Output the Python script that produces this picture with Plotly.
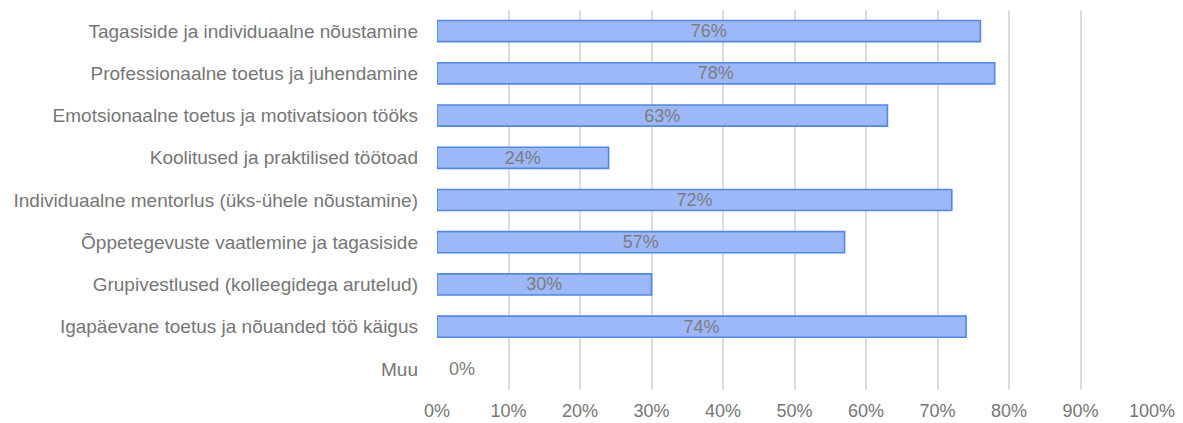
import plotly.graph_objects as go

categories = [
    "Tagasiside ja individuaalne nõustamine",
    "Professionaalne toetus ja juhendamine",
    "Emotsionaalne toetus ja motivatsioon tööks",
    "Koolitused ja praktilised töötoad",
    "Individuaalne mentorlus (üks-ühele nõustamine)",
    "Õppetegevuste vaatlemine ja tagasiside",
    "Grupivestlused (kolleegidega arutelud)",
    "Igapäevane toetus ja nõuanded töö käigus",
    "Muu",
]
shares = [0.76, 0.78, 0.63, 0.24, 0.72, 0.57, 0.30, 0.74, 0.00]
tick_values = [i / 10 for i in range(11)]
tick_labels = [f"{i * 10}%" for i in range(11)]

label_text = [f"{round(v * 100)}%" for v in shares]
inside_text = [t if v > 0 else "" for t, v in zip(label_text, shares)]
edge_width = [1.6 if v > 0 else 0 for v in shares]

GREY = "#767676"
FONT = "Liberation Sans, Arial, sans-serif"

fig = go.Figure(
    go.Bar(
        x=shares,
        y=categories,
        orientation="h",
        marker=dict(color="#9db8f8", line=dict(color="#4f87ea", width=edge_width)),
        text=inside_text,
        textposition="inside",
        insidetextanchor="middle",
        textangle=0,
        constraintext="none",
        textfont=dict(family=FONT, size=18, color="#7c7c7c"),
        cliponaxis=False,
        width=0.5,
    )
)

# Zero-valued bars get their label just right of the axis
for cat, v, t in zip(categories, shares, label_text):
    if v == 0:
        fig.add_annotation(
            x=v, y=cat, text=t, showarrow=False, xanchor="left", xshift=10,
            font=dict(family=FONT, size=18, color="#7c7c7c"),
        )

fig.update_layout(
    width=1183,
    height=423,
    margin=dict(l=437, r=31, t=10, b=33),
    paper_bgcolor="white",
    plot_bgcolor="white",
    showlegend=False,
    font=dict(family=FONT, size=18, color=GREY),
    xaxis=dict(
        range=[0, 1],
        tickvals=tick_values,
        ticktext=tick_labels,
        showgrid=True,
        gridcolor="#dcdcdc",
        gridwidth=1.5,
        zeroline=False,
        showline=False,
        ticks="",
        ticklabelstandoff=8,
        automargin=False,
        tickfont=dict(family=FONT, size=18, color=GREY),
    ),
    yaxis=dict(
        autorange="reversed",
        showgrid=False,
        zeroline=False,
        showline=False,
        ticks="",
        ticklabelstandoff=18,
        automargin=False,
        tickfont=dict(family=FONT, size=19, color=GREY),
    ),
)

fig.write_html("out.html")
